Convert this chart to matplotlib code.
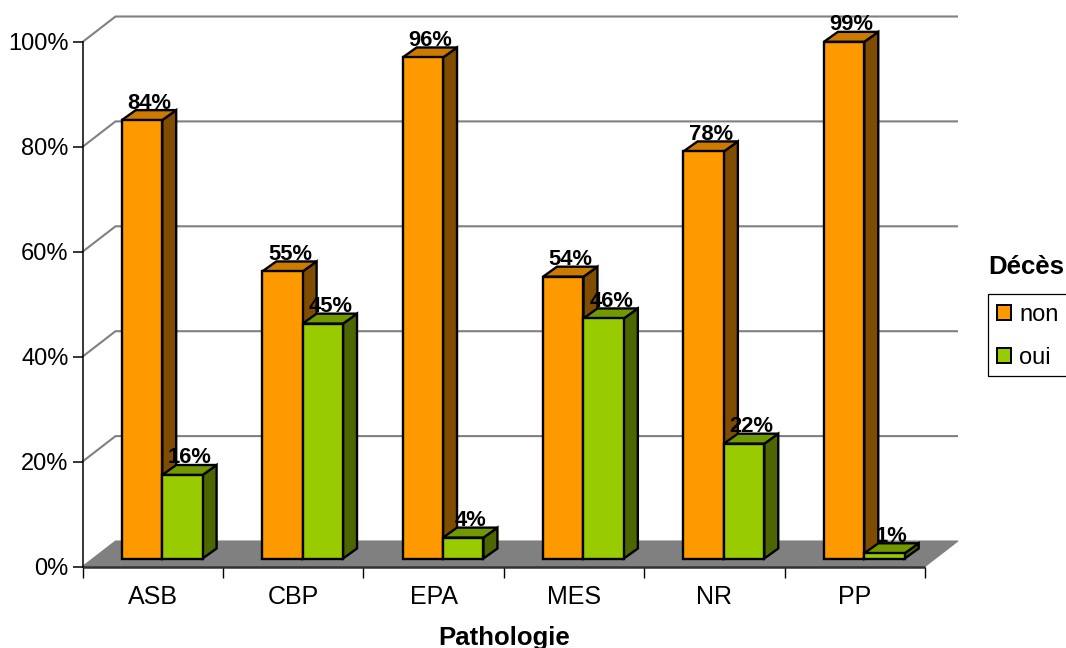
import matplotlib
matplotlib.use("Agg")
import matplotlib.pyplot as plt
from matplotlib.patches import Polygon, Patch, Rectangle

categories = ["ASB", "CBP", "EPA", "MES", "NR", "PP"]
non_values = [84, 55, 96, 54, 78, 99]
oui_values = [16, 45, 4, 46, 22, 1]
y_ticks = [0, 20, 40, 60, 80, 100]

plt.rcParams["font.family"] = ["Liberation Sans", "DejaVu Sans"]

W, H = 1066, 648
LEFT, RIGHT, BOTTOM, TOP = 82.5, 925.0, 566.5, 42.0
fig = plt.figure(figsize=(W / 100, H / 100), dpi=100)
ax = fig.add_axes([LEFT / W, 1 - BOTTOM / H, (RIGHT - LEFT) / W, (BOTTOM - TOP) / H])
ax.set_xlim(0, len(categories))
ax.set_ylim(0, 100)
PX = len(categories) / (RIGHT - LEFT)   # data units per pixel (x)
PY = 100 / (BOTTOM - TOP)               # data units per pixel (y)

WALL_DX, WALL_DY = 33, 25.5
BAR_DX, BAR_DY = 14, 10
BAR_BASE_PX = 8
BAR_LEFT = 39.3 * PX
BAR_W = 40.4 * PX
BAR_SCALE = 0.995
GREY = "#808080"


def pt(x, y, dx=0, dy=0):
    return (x + dx * PX, y + dy * PY)


# walls: gridlines
for v in y_ticks[1:]:
    pts = [pt(0, v), pt(0, v, WALL_DX, WALL_DY), pt(len(categories), v, WALL_DX, WALL_DY)]
    ax.plot(*zip(*pts), color=GREY, lw=1.5, clip_on=False, zorder=1, solid_capstyle="butt")

# floor
n = len(categories)
ax.add_patch(Polygon([pt(0, 0), pt(n, 0), pt(n, 0, WALL_DX, WALL_DY), pt(0, 0, WALL_DX, WALL_DY)],
                     closed=True, facecolor=GREY, edgecolor=GREY, lw=0.8, clip_on=False, zorder=1))
ax.plot([0, n], [0, 0], color="#333333", lw=1.8, clip_on=False, zorder=2, solid_capstyle="butt")


def bar(x0, value, front, top, side, z):
    y0 = BAR_BASE_PX * PY
    y1 = y0 + value * BAR_SCALE
    x1 = x0 + BAR_W
    kw = dict(closed=True, edgecolor="black", lw=1.7, joinstyle="miter", clip_on=False, zorder=z)
    ax.add_patch(Polygon([pt(x1, y0), pt(x1, y0, BAR_DX, BAR_DY), pt(x1, y1, BAR_DX, BAR_DY), pt(x1, y1)],
                         facecolor=side, **kw))
    ax.add_patch(Polygon([pt(x0, y1), pt(x1, y1), pt(x1, y1, BAR_DX, BAR_DY), pt(x0, y1, BAR_DX, BAR_DY)],
                         facecolor=top, **kw))
    ax.add_patch(Polygon([pt(x0, y0), pt(x1, y0), pt(x1, y1), pt(x0, y1)],
                         facecolor=front, **kw))
    lx, ly = pt((x0 + x1) / 2, y1, 7.5, BAR_DY + 1.5)
    ax.text(lx, ly, f"{value}%", ha="center", va="baseline", fontsize=15.8, fontweight="bold",
            color="black", clip_on=False, zorder=z + 10)


for i, (a, b) in enumerate(zip(non_values, oui_values)):
    z = 3 + i * 2
    bar(i + BAR_LEFT, a, "#FF9900", "#CC7A00", "#804D00", z)
    bar(i + BAR_LEFT + BAR_W, b, "#99CC00", "#739900", "#4D6600", z + 1)

# axes
for s in ("top", "right"):
    ax.spines[s].set_visible(False)
ax.spines["left"].set_linewidth(1.1)
ax.spines["bottom"].set_visible(False)
ax.set_yticks(y_ticks)
ax.set_yticklabels([f"{v}%" for v in y_ticks], fontsize=17)
ax.tick_params(axis="y", length=7, width=1.1, pad=3)
ax.set_xticks(range(n + 1))
ax.set_xticklabels([])
ax.tick_params(axis="x", which="major", length=8, width=1.0)
ax.set_xticks([i + 0.5 for i in range(n)], minor=True)
ax.set_xticklabels(categories, minor=True, fontsize=18)
ax.tick_params(axis="x", which="minor", length=0, pad=13)
ax.set_xlabel("Pathologie", fontsize=18.5, fontweight="bold", va="center")
ax.xaxis.set_label_coords(0.5, -(638 - BOTTOM) / (BOTTOM - TOP))

# legend
fig.add_artist(Rectangle((987.5 / W, 1 - 376 / H), 90 / W, 82 / H, transform=fig.transFigure,
                         facecolor="white", edgecolor="black", lw=0.9, zorder=2))
handles = [Patch(facecolor="#FF9900", edgecolor="black", lw=1.4),
           Patch(facecolor="#99CC00", edgecolor="black", lw=1.4)]
leg = fig.legend(handles, ["non", "oui"], loc="upper left",
                 bbox_to_anchor=(997 / W, 1 - 304 / H), fontsize=17, frameon=False,
                 borderaxespad=0, borderpad=0,
                 handlelength=0.6, handleheight=0.6, handletextpad=0.33,
                 labelspacing=0.9)
leg.set_zorder(3)
fig.text(1026 / W, 1 - 267.5 / H, "Décès", ha="center", va="center", fontsize=18.5, fontweight="bold")

fig.savefig("out.png", dpi=100)
